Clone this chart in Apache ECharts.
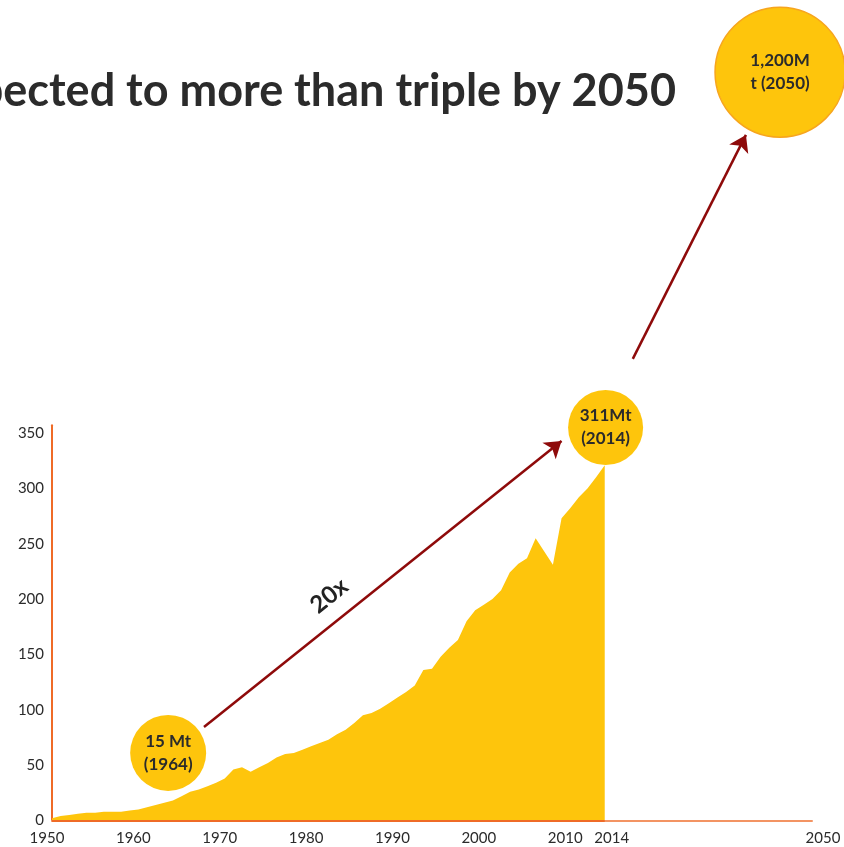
<!DOCTYPE html>
<html>
<head>
<meta charset="utf-8">
<script src="https://cdn.jsdelivr.net/npm/echarts@6/dist/echarts.min.js"></script>
<style>html,body{margin:0;padding:0;background:#fff}#c{width:844px;height:847px}</style>
</head>
<body>
<div id="c"></div>
<script>
// ---- data ----
const years = [1950,1951,1952,1953,1954,1955,1956,1957,1958,1959,1960,1961,1962,1963,1964,1965,1966,1967,1968,1969,
  1970,1971,1972,1973,1974,1975,1976,1977,1978,1979,1980,1981,1982,1983,1984,1985,1986,1987,1988,1989,
  1990,1991,1992,1993,1994,1995,1996,1997,1998,1999,2000,2001,2002,2003,2004,2005,2006,2007,2008,2009,
  2010,2011,2012,2013,2014];
const production = [2,4,5,6,7,7,8,8,8,9,10,12,14,16,18,22,26,28,31,34,
  38,46,48,44,48,52,57,60,61,64,67,70,73,78,82,88,95,97,101,106,
  111,116,122,136,137,148,156,163,180,190,195,200,208,224,232,237,255,243,231,273,
  282,292,300,310,321];
const xTickValues = [1950,1960,1970,1980,1990,2000,2010,2014];
const axisEndValue = 2038;      // axis end position standing for 2050
const axisEndLabel = '2050';
const yTicks = [0,50,100,150,200,250,300,350];
const bubbles = [
  {name:'15 Mt\n(1964)', value:[1963.45, 61], size:76},
  {name:'311Mt\n(2014)', value:[2014.1, 355], size:75},
];
const bigBubble = {name:'1,200M\nt (2050)', value:[2034.3, 676], size:130};
const arrows = [
  [[1967.6, 84.5],[2009.0, 342.8]],
  [[2017.25, 417],[2030.35, 619.3]]
];
const growthLabel = {text:'20x', value:[1982.1, 203]};
const titleText = 'Global plastic production is expected to more than triple by 2050';

const gold = '#FEC50C';
const orange = '#EF6B27';
const lightOrange = '#F39463';
const FONT = 'Lato';
const LABEL = {fontFamily:FONT, fontSize:15, color:'#2b2b2b'};

const chart = echarts.init(document.getElementById('c'), null, {renderer:'canvas'});
chart.setOption({
  animation:false,
  backgroundColor:'#fff',
  title:{
    text:titleText, right:163, top:64,
    textStyle:{fontFamily:FONT, fontWeight:'bold', fontSize:45, color:'#2b2b2b'}
  },
  grid:{left:52, right:32, top:425.3, bottom:26.5, containLabel:false, outerBoundsMode:'none'},
  xAxis:{
    type:'value', min:1950, max:axisEndValue,
    axisLine:{show:true, lineStyle:{color:lightOrange, width:2}},
    axisTick:{show:false}, splitLine:{show:false},
    axisLabel:{
      customValues: xTickValues.concat([axisEndValue]),
      margin:10, ...LABEL,
      formatter:v => v===axisEndValue ? '{e|'+axisEndLabel+'}' : (v===2014 ? '{r|'+v+'}' : '{l|'+v+'}'),
      rich:{
        l:{...LABEL, padding:[0,10,0,0]},
        r:{...LABEL, padding:[0,0,0,14]},
        e:{...LABEL, padding:[0,0,0,22]}
      }
    }
  },
  yAxis:{
    type:'value', min:0, max:357, interval:50,
    axisLine:{show:true, lineStyle:{color:orange, width:2}},
    axisTick:{show:false}, splitLine:{show:false},
    axisLabel:{margin:8, ...LABEL, customValues:yTicks}
  },
  series:[
    {
      type:'line', data:years.map((y,i)=>[y,production[i]]),
      showSymbol:false, symbol:'none',
      lineStyle:{width:0, color:gold}, itemStyle:{color:gold},
      areaStyle:{color:gold, opacity:1}, z:2
    },
    {
      // darker baseline under the historical period
      type:'lines', coordinateSystem:'cartesian2d', clip:false,
      symbol:['none','none'],
      lineStyle:{color:orange, width:2.2, opacity:1},
      data:[{coords:[[years[0],0],[years[years.length-1],0]]}], z:3
    },
    {
      type:'lines', coordinateSystem:'cartesian2d', polyline:false, clip:false,
      symbol:['none','arrow'], symbolSize:[1,16],
      lineStyle:{color:'#8E0A0A', width:2.5, opacity:1},
      data:arrows.map(a=>({coords:a})), z:3
    },
    {
      type:'scatter', clip:false, symbol:'circle',
      data:bubbles.map(b=>({name:b.name, value:b.value, symbolSize:b.size})),
      itemStyle:{color:gold, opacity:1},
      label:{show:true, position:'inside', formatter:p=>p.name,
        fontFamily:FONT, fontWeight:'bold', fontSize:17, lineHeight:23, color:'#2b2b2b'},
      z:4
    },
    {
      type:'scatter', clip:false, symbol:'circle',
      data:[{name:bigBubble.name, value:bigBubble.value, symbolSize:bigBubble.size}],
      itemStyle:{color:gold, borderColor:'#F7A51E', borderWidth:1.5, opacity:1},
      label:{show:true, position:'inside', formatter:p=>p.name,
        fontFamily:FONT, fontWeight:'bold', fontSize:17, lineHeight:23, color:'#2b2b2b'},
      z:4
    },
    {
      type:'scatter', clip:false, symbolSize:0,
      itemStyle:{opacity:1, color:'#222'},
      data:[{name:growthLabel.text, value:growthLabel.value}],
      label:{show:true, position:'inside', formatter:p=>p.name, rotate:38.7,
        fontFamily:FONT, fontWeight:'bold', fontSize:24, color:'#222', opacity:1},
      z:4
    }
  ]
});
</script>
</body>
</html>
